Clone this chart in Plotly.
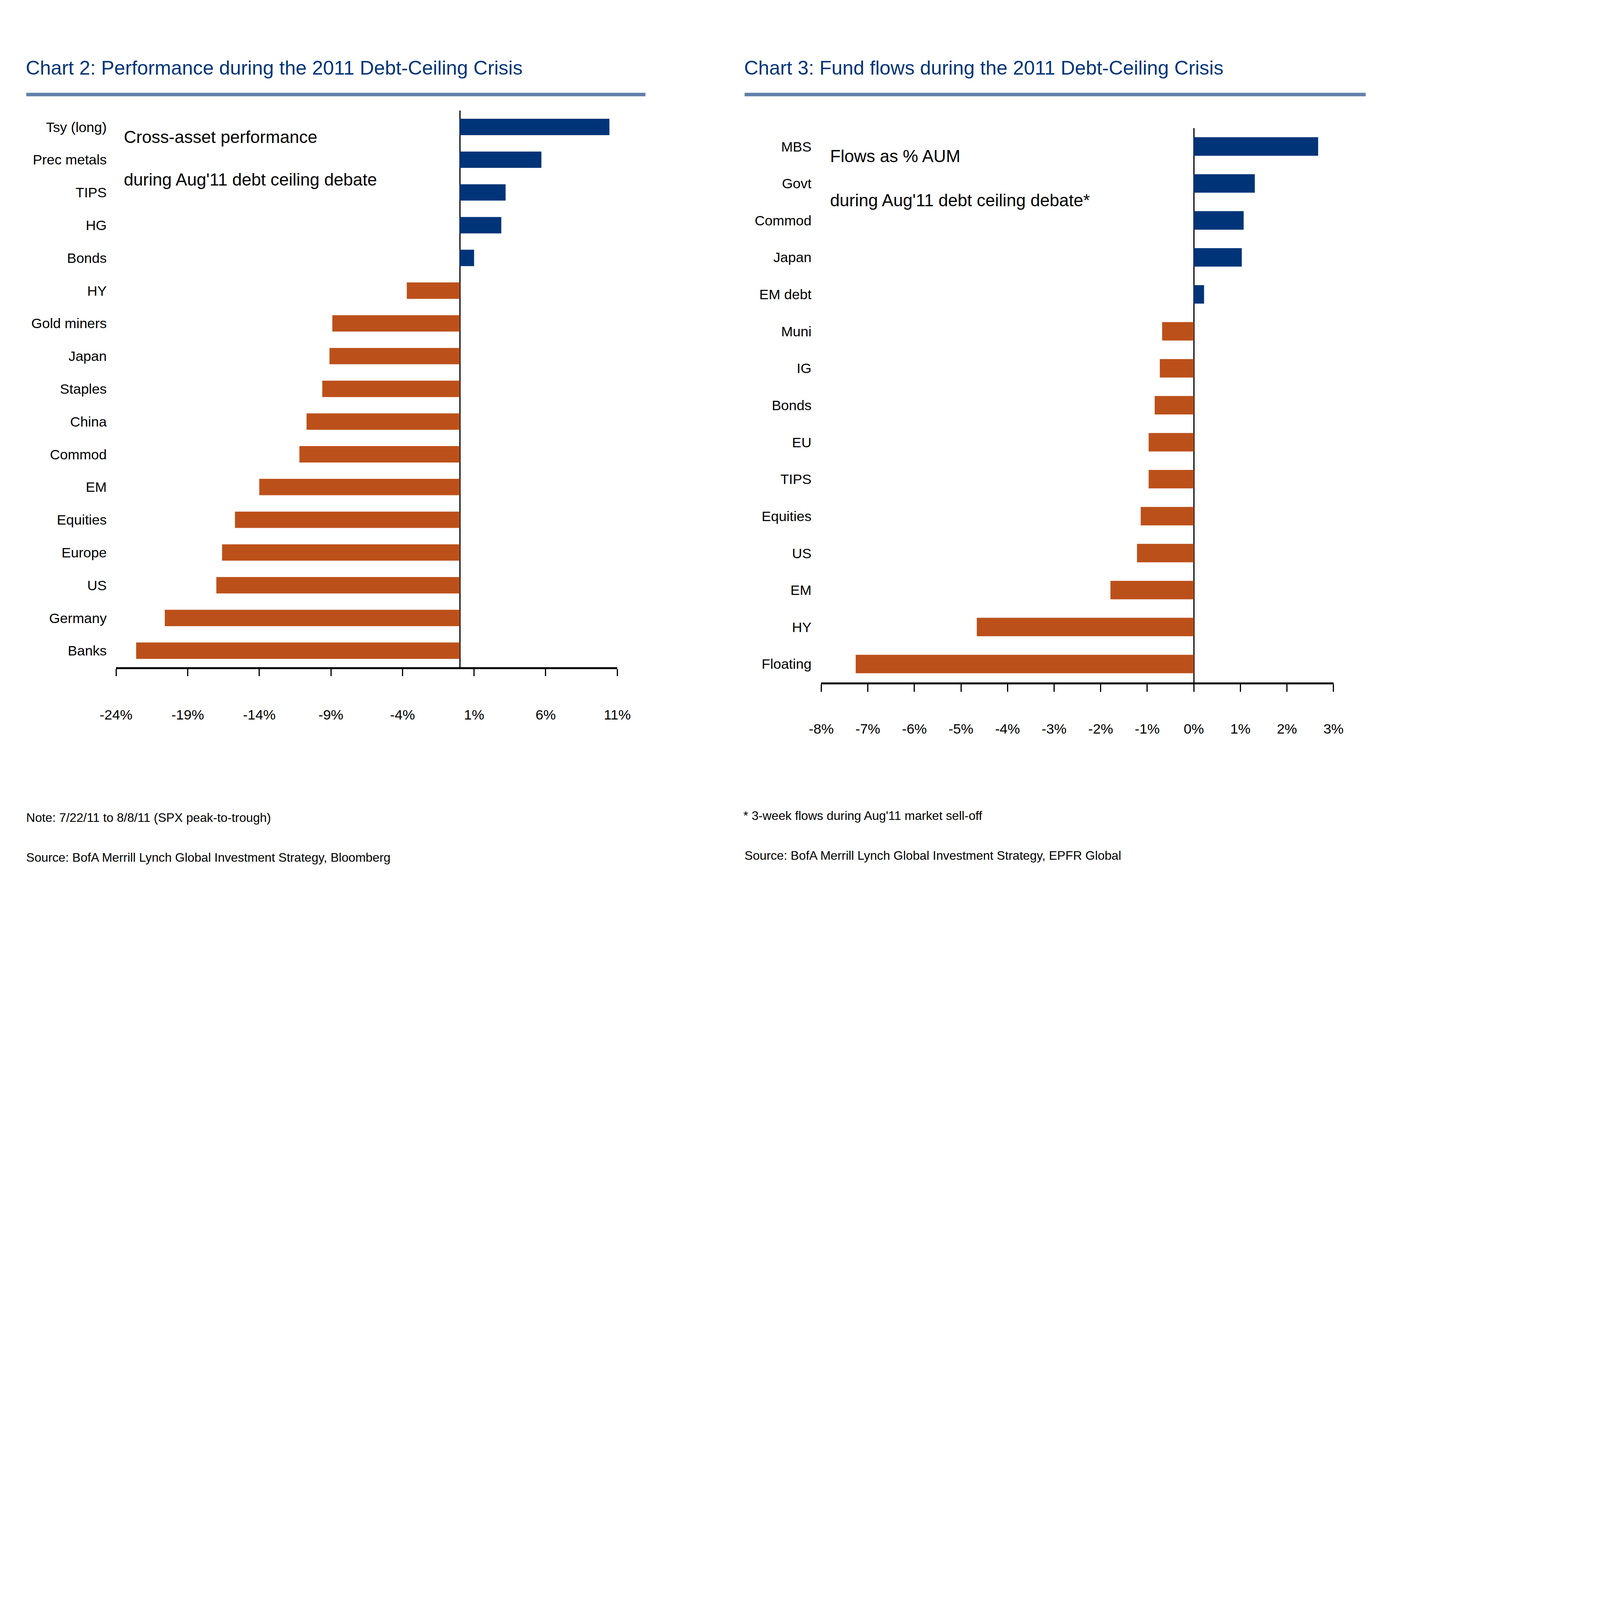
import plotly.graph_objects as go

# ---------------- data ----------------
perf_labels = ["Tsy (long)", "Prec metals", "TIPS", "HG", "Bonds", "HY", "Gold miners",
               "Japan", "Staples", "China", "Commod", "EM", "Equities", "Europe", "US",
               "Germany", "Banks"]
perf_values = [10.45, 5.7, 3.2, 2.9, 1.0, -3.7, -8.9, -9.1, -9.6, -10.7, -11.2, -14.0,
               -15.7, -16.6, -17.0, -20.6, -22.6]
perf_tickvals = [-24, -19, -14, -9, -4, 1, 6, 11]
perf_ticktext = ["-24%", "-19%", "-14%", "-9%", "-4%", "1%", "6%", "11%"]

flow_labels = ["MBS", "Govt", "Commod", "Japan", "EM debt", "Muni", "IG", "Bonds", "EU",
               "TIPS", "Equities", "US", "EM", "HY", "Floating"]
flow_values = [2.67, 1.31, 1.07, 1.03, 0.22, -0.68, -0.73, -0.84, -0.97, -0.97, -1.14,
               -1.22, -1.79, -4.66, -7.26]
flow_tickvals = [-8, -7, -6, -5, -4, -3, -2, -1, 0, 1, 2, 3]
flow_ticktext = ["-8%", "-7%", "-6%", "-5%", "-4%", "-3%", "-2%", "-1%", "0%", "1%", "2%", "3%"]

title2 = "Chart 2: Performance during the 2011 Debt-Ceiling Crisis"
title3 = "Chart 3: Fund flows during the 2011 Debt-Ceiling Crisis"
inset2 = ["Cross-asset performance", "during Aug'11 debt ceiling debate"]
inset3 = ["Flows as % AUM", "during Aug'11 debt ceiling debate*"]
notes2 = ["Note: 7/22/11 to 8/8/11 (SPX peak-to-trough)",
          "Source: BofA Merrill Lynch Global Investment Strategy, Bloomberg"]
notes3 = ["* 3-week flows during Aug'11 market sell-off",
          "Source: BofA Merrill Lynch Global Investment Strategy, EPFR Global"]

# ---------------- style ----------------
W, H = 6072, 4760          # reference picture size (positions below in its pixels)
S = 1.45                   # picture pixels per CSS pixel (measured)
FONT = "Liberation Sans Narrow, Arial Narrow, Liberation Sans, Arial, sans-serif"
NAVY = "#003478"
ORANGE = "#BC501A"
RULE = "#6180AA"


def px(x):
    # reference pixel -> paper fraction (calibrated against the rendered page)
    return (x * 0.2575 - 21) / 1528


def py(y):
    return 1 - y / H


def fs(p):
    return p / S


def colors(vals):
    return [NAVY if v >= 0 else ORANGE for v in vals]


fig = go.Figure()

fig.add_trace(go.Bar(x=perf_values, y=perf_labels, orientation="h",
                     marker=dict(color=colors(perf_values), line=dict(width=0)),
                     xaxis="x", yaxis="y", showlegend=False, hoverinfo="x+y"))
fig.add_trace(go.Bar(x=flow_values, y=flow_labels, orientation="h",
                     marker=dict(color=colors(flow_values), line=dict(width=0)),
                     xaxis="x2", yaxis="y2", showlegend=False, hoverinfo="x+y"))

xcommon = dict(showgrid=False, zeroline=True, zerolinecolor="black", zerolinewidth=fs(5),
               showline=True, linecolor="black", linewidth=fs(7),
               ticks="outside", ticklen=fs(27), tickwidth=fs(4), tickcolor="black",
               tickfont=dict(family=FONT, size=fs(52), color="black"),
               fixedrange=True)
ycommon = dict(showgrid=False, zeroline=False, showline=False, ticks="",
               autorange="reversed", type="category",
               tickfont=dict(family=FONT, size=fs(52), color="black"),
               fixedrange=True)

fig.update_layout(
    autosize=True,
    margin=dict(l=0, r=0, t=0, b=0, pad=0),
    paper_bgcolor="white", plot_bgcolor="white",
    bargap=0.5,
    xaxis=dict(domain=[px(448), px(2350)], range=[-24, 11], ticklabelstandoff=round(fs(99)),
               tickvals=perf_tickvals, ticktext=perf_ticktext, anchor="y", **xcommon),
    yaxis=dict(domain=[py(1983), py(321)], anchor="x", ticklabelstandoff=round(fs(33)),
               categoryorder="array", categoryarray=perf_labels, **ycommon),
    xaxis2=dict(domain=[px(3124), px(5068)], range=[-8, 3], ticklabelstandoff=round(fs(93)),
                tickvals=flow_tickvals, ticktext=flow_ticktext, anchor="y2", **xcommon),
    yaxis2=dict(domain=[py(2029), py(373)], anchor="x2", ticklabelstandoff=round(fs(35)),
                categoryorder="array", categoryarray=flow_labels, **ycommon),
)

ann = []


def text(x, y, s, size, color="black"):
    ann.append(dict(x=px(x), y=py(y), xref="paper", yref="paper", text=s,
                    showarrow=False, xanchor="left", yanchor="middle",
                    font=dict(family=FONT, size=fs(size), color=color)))


# titles
text(103, 193, title2, 73, NAVY)
text(2829, 193, title3, 73, NAVY)
# inset captions
text(474, 400, inset2[0], 64)
text(474, 527, inset2[1], 64)
text(3155, 457, inset3[0], 64)
text(3155, 588, inset3[1], 64)
# notes
text(104, 2433, notes2[0], 46)
text(104, 2552, notes2[1], 46)
text(2825, 2427, notes3[0], 46)
text(2830, 2546, notes3[1], 46)

fig.update_layout(annotations=ann)

# title rules
fig.add_shape(type="line", xref="paper", yref="paper", x0=px(107), x1=px(2457),
              y0=py(273), y1=py(273), line=dict(color=RULE, width=fs(13)))
fig.add_shape(type="line", xref="paper", yref="paper", x0=px(2833), x1=px(5190),
              y0=py(273), y1=py(273), line=dict(color=RULE, width=fs(13)))

fig.write_html("out.html", default_width="calc(100vw - 16px)",
               default_height="calc(100vh - 16px)")
